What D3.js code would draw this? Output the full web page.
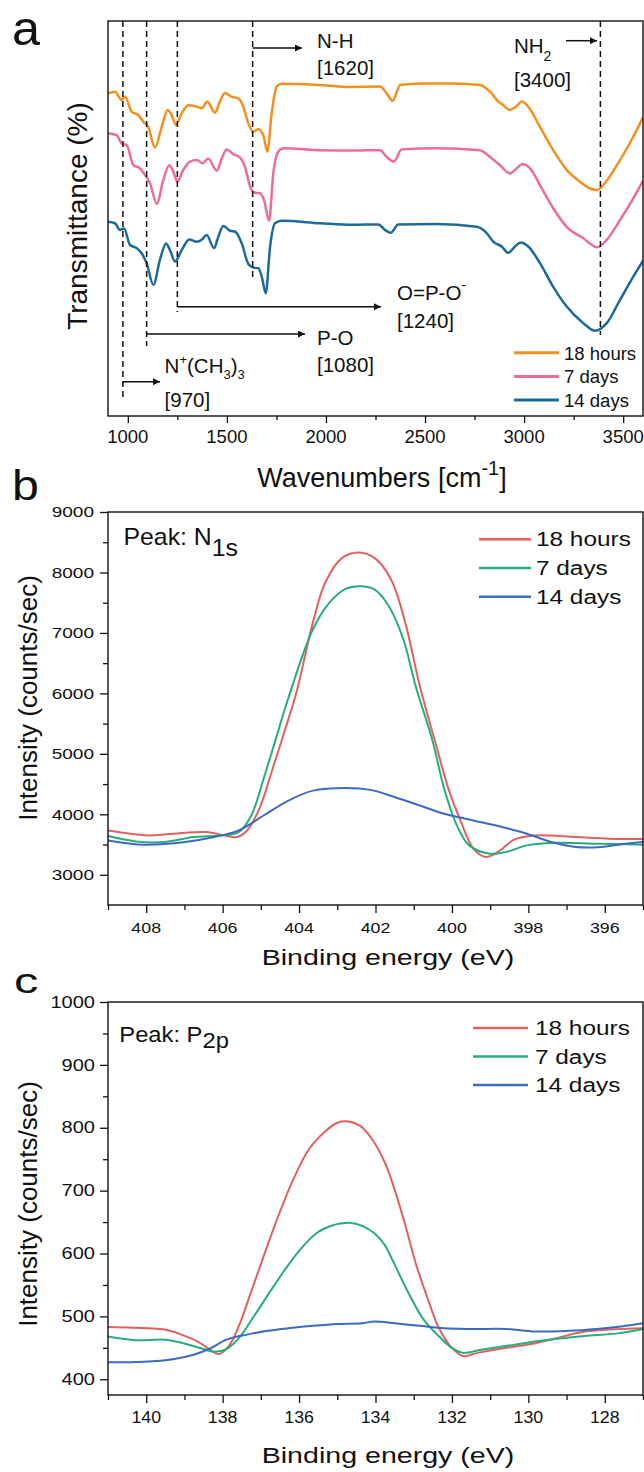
<!DOCTYPE html>
<html>
<head>
<meta charset="utf-8">
<script src="https://cdn.jsdelivr.net/npm/d3@7"></script>
<style>
body { margin: 0; background: #fff; }
text { font-family: Arial, "Liberation Sans", sans-serif; fill: #111; }
</style>
</head>
<body>
<svg id="fig" width="644" height="1472"></svg>
<script>
var seriesNames = ['18 hours', '7 days', '14 days'];
var ftirColors = ['#f5901e', '#ee6c9c', '#1d6a9b'];
var xpsColors = ['#e3605f', '#27ad7d', '#3d6bbf'];

// FTIR (panel a), [wavenumber, transmittance a.u.]
var ftir18h = [[900,81.7],[935,82.1],[969,80.0],[986,80.8],[1020,77.0],[1053,76.2],[1078,74.5],[1103,73.2],[1137,68.0],[1171,73.2],[1201,77.5],[1221,76.2],[1243,73.7],[1272,76.6],[1305,78.7],[1348,78.3],[1373,77.9],[1401,79.6],[1440,76.8],[1465,79.6],[1490,81.8],[1524,80.8],[1558,80.4],[1583,78.3],[1608,74.1],[1633,72.0],[1659,72.6],[1684,71.1],[1704,66.9],[1726,76.6],[1751,83.4],[1777,84.1],[1900,84.0],[2020,83.6],[2105,83.3],[2273,83.4],[2306,81.7],[2337,79.8],[2374,83.8],[2475,84.2],[2643,84.2],[2777,83.8],[2828,82.1],[2870,79.6],[2895,78.7],[2925,77.5],[2959,78.3],[2988,79.6],[3021,78.3],[3080,73.2],[3147,67.3],[3215,62.3],[3282,59.3],[3333,57.6],[3368,57.2],[3400,58.5],[3484,64.8],[3551,70.7],[3600,75.6]];
var ftir7d = [[900,71.6],[944,71.1],[969,69.0],[994,68.6],[1028,63.5],[1061,62.7],[1087,61.0],[1112,58.9],[1146,53.7],[1179,59.7],[1209,63.5],[1230,61.8],[1250,59.3],[1280,62.3],[1314,64.4],[1348,64.8],[1378,64.0],[1406,65.2],[1449,62.1],[1474,65.2],[1499,67.5],[1532,66.3],[1563,65.6],[1591,63.1],[1617,58.1],[1642,56.5],[1667,56.4],[1687,54.7],[1713,49.4],[1734,61.4],[1759,66.9],[1785,67.8],[1970,67.3],[2138,67.2],[2273,67.3],[2306,65.6],[2343,64.4],[2382,67.5],[2559,67.8],[2777,67.3],[2828,65.6],[2878,63.5],[2929,61.4],[2963,62.7],[2993,63.8],[3030,62.7],[3089,57.6],[3147,52.6],[3215,47.9],[3299,45.0],[3369,42.7],[3417,44.6],[3484,49.6],[3551,55.1],[3600,59.5]];
var ftir14d = [[900,49.2],[935,48.8],[961,47.1],[981,47.5],[1011,43.3],[1045,42.5],[1070,41.2],[1095,38.7],[1129,33.2],[1162,39.5],[1193,43.7],[1216,41.6],[1238,39.1],[1272,42.0],[1310,44.7],[1348,44.1],[1373,44.6],[1398,45.8],[1435,42.5],[1457,45.4],[1482,48.1],[1516,46.9],[1541,46.7],[1575,43.7],[1608,38.5],[1633,37.6],[1659,37.4],[1676,35.3],[1696,31.1],[1718,42.9],[1743,48.8],[1777,49.4],[1970,48.8],[2138,48.4],[2264,48.5],[2298,47.1],[2327,46.4],[2365,48.5],[2559,48.6],[2761,47.9],[2811,46.3],[2845,44.1],[2887,42.9],[2920,41.3],[2954,42.9],[2983,43.9],[3021,42.9],[3080,38.7],[3147,32.7],[3215,27.7],[3299,23.5],[3358,21.6],[3417,23.5],[3484,29.4],[3551,35.3],[3600,39.3]];
var ftirTicks = [1000, 1500, 2000, 2500, 3000, 3500];
var ftirMinor = [1250, 1750, 2250, 2750, 3250];
var bandWavenumbers = [975, 1095, 1250, 1630, 3385];
var bandValues = ['[970]', '[1080]', '[1240]', '[1620]', '[3400]'];

// XPS N1s (panel b), [binding energy eV, counts/sec]
var n1s18h = [[409,3733],[407.95,3651],[407.3,3679],[406.44,3706],[405.95,3651],[405.63,3623],[405.36,3733],[405.04,4091],[404.72,4695],[404.39,5354],[404.07,6013],[403.64,7166],[403.32,7825],[402.88,8237],[402.46,8330],[402.02,8237],[401.59,7880],[401.22,7166],[400.84,6122],[400.41,5134],[400.09,4420],[399.76,3871],[399.44,3432],[399.12,3295],[398.8,3377],[398.36,3585],[397.83,3651],[396.75,3623],[395.89,3596],[395,3590]];
var n1s7d = [[409,3640],[408.27,3552],[407.51,3542],[406.76,3624],[406.11,3651],[405.58,3706],[405.25,3980],[404.93,4585],[404.61,5244],[404.29,5903],[403.64,7056],[403.21,7496],[402.78,7727],[402.4,7770],[402.02,7715],[401.65,7440],[401.27,6891],[400.95,6122],[400.52,5244],[400.2,4420],[399.87,3816],[399.55,3486],[399.01,3349],[398.58,3377],[398.04,3486],[397.29,3530],[396.21,3514],[395,3498]];
var n1s14d = [[409,3569],[408.05,3498],[406.98,3542],[406.22,3624],[405.58,3733],[404.93,3980],[404.28,4227],[403.64,4392],[402.78,4437],[402.13,4404],[401.49,4283],[400.84,4146],[400.2,4008],[399.44,3898],[398.69,3789],[398.04,3679],[397.4,3542],[396.75,3459],[396.1,3459],[395.46,3514],[395,3542]];
var n1sTicksX = [408, 406, 404, 402, 400, 398, 396];
var n1sMinorX = [409, 407, 405, 403, 401, 399, 397, 395];
var n1sTicksY = [3000, 4000, 5000, 6000, 7000, 8000, 9000];
var n1sMinorY = [3500, 4500, 5500, 6500, 7500, 8500];

// XPS P2p (panel c)
var p2p18h = [[141,483],[139.95,481],[139.51,479],[139.08,471],[138.65,460],[138.33,447],[138.11,440],[137.85,452],[137.58,484],[137.25,540],[136.93,595],[136.7,634],[136.45,674],[136.18,714],[135.75,765],[135.32,794],[135,808],[134.72,810],[134.4,803],[134.08,781],[133.75,744],[133.49,700],[133.22,645],[132.95,585],[132.62,526],[132.36,484],[132.03,452],[131.71,437],[131.33,442],[130.69,449],[129.93,456],[129.29,465],[128.53,476],[127.89,479],[127,481]];
var p2p7d = [[141,468],[140.27,462],[139.51,463],[139.08,458],[138.65,451],[138.22,444],[137.9,448],[137.58,465],[137.15,503],[136.72,543],[136.28,582],[135.96,607],[135.53,633],[135.21,643],[134.88,648],[134.67,649],[134.35,644],[134.02,632],[133.75,613],[133.59,594],[133.16,540],[132.73,494],[132.3,466],[131.98,449],[131.71,442],[131.23,447],[130.58,453],[129.83,460],[129.18,465],[128.53,469],[127.67,473],[127,480]];
var p2p14d = [[141,427],[140.05,428],[139.3,432],[138.76,439],[138.33,449],[137.9,463],[137.36,471],[136.82,477],[136.28,481],[135.64,485],[135,488],[134.35,489],[134.02,492],[133.49,489],[132.84,485],[132.2,481],[131.44,480],[130.58,480],[129.83,476],[128.96,477],[128.21,480],[127.57,484],[127,489]];
var p2pTicksX = [140, 138, 136, 134, 132, 130, 128];
var p2pMinorX = [141, 139, 137, 135, 133, 131, 129, 127];
var p2pTicksY = [400, 500, 600, 700, 800, 900, 1000];
var p2pMinorY = [450, 550, 650, 750, 850, 950];

var svg = d3.select('#fig');
var defs = svg.append('defs');
defs.append('marker').attr('id', 'arr').attr('viewBox', '0 0 10 10')
  .attr('refX', 10).attr('refY', 5).attr('markerWidth', 12).attr('markerHeight', 7)
  .attr('markerUnits', 'userSpaceOnUse').attr('orient', 'auto')
  .append('path').attr('d', 'M0,0L10,5L0,10z').attr('fill', '#111');

var L = 108, R = 643;

// text with horizontal stretch (the source figure is not scaled evenly)
function rich(g, x, y, parts, size, sx, anchor) {
  var t = g.append('text')
    .attr('transform', 'translate(' + x + ',' + y + ') scale(' + sx + ',1)')
    .attr('font-size', size)
    .attr('text-anchor', anchor || 'start');
  parts.forEach(function(p) {
    if (typeof p === 'string') p = {t: p};
    t.append('tspan').attr('dy', p.dy || 0).attr('font-size', p.size || size).text(p.t);
  });
  return t;
}

function vtitle(g, x, y, s, size) {
  g.append('text').attr('transform', 'translate(' + x + ',' + y + ') rotate(-90)')
    .attr('font-size', size).attr('text-anchor', 'middle').text(s);
}

function ticks(g, axis, pos) {
  var a = g.append('g').attr('transform', pos).call(axis);
  a.select('.domain').remove();
  a.selectAll('line').attr('stroke', '#111').attr('stroke-width', 1.3);
  return a;
}

function panel(cfg) {
  var g = svg.append('g');
  var x = d3.scaleLinear().domain(cfg.xDomain).range([L, R]);
  var y = d3.scaleLinear().domain(cfg.yDomain).range([cfg.bottom, cfg.top]);
  var id = 'clip' + cfg.name;
  defs.append('clipPath').attr('id', id).append('rect')
    .attr('x', L).attr('y', cfg.top).attr('width', R - L).attr('height', cfg.bottom - cfg.top);

  var line = d3.line().x(function(d) { return x(d[0]); }).y(function(d) { return y(d[1]); })
    .curve(cfg.curve);
  var lines = g.append('g').attr('clip-path', 'url(#' + id + ')');
  cfg.series.forEach(function(s, i) {
    lines.append('path').datum(s).attr('d', line).attr('fill', 'none')
      .attr('stroke', cfg.colors[i]).attr('stroke-width', cfg.lw).attr('stroke-linejoin', 'round');
  });

  g.append('rect').attr('x', L).attr('y', cfg.top).attr('width', R - L).attr('height', cfg.bottom - cfg.top)
    .attr('fill', 'none').attr('stroke', '#111').attr('stroke-width', 1.4);

  ticks(g, d3.axisBottom(x).tickValues(cfg.xTicks).tickSize(cfg.major).tickFormat(''), 'translate(0,' + cfg.bottom + ')');
  ticks(g, d3.axisBottom(x).tickValues(cfg.xMinor).tickSize(cfg.minor).tickFormat(''), 'translate(0,' + cfg.bottom + ')');
  cfg.xTicks.forEach(function(v) {
    rich(g, x(v), cfg.xLabelY, [String(v)], cfg.xSize, cfg.xSx, 'middle');
  });
  if (cfg.yTicks) {
    ticks(g, d3.axisLeft(y).tickValues(cfg.yTicks).tickSize(cfg.major).tickFormat(''), 'translate(' + L + ',0)');
    ticks(g, d3.axisLeft(y).tickValues(cfg.yMinor).tickSize(cfg.minor).tickFormat(''), 'translate(' + L + ',0)');
    cfg.yTicks.forEach(function(v) {
      rich(g, cfg.yLabelX, y(v) + cfg.ySize * 0.36, [String(v)], cfg.ySize, cfg.ySx, 'end');
    });
  }

  // legend
  seriesNames.forEach(function(n, i) {
    var ly = cfg.legend.y + i * cfg.legend.dy;
    g.append('line').attr('x1', cfg.legend.x1).attr('x2', cfg.legend.x2).attr('y1', ly).attr('y2', ly)
      .attr('stroke', cfg.colors[i]).attr('stroke-width', cfg.lw + 0.5);
    rich(g, cfg.legend.tx, ly + 7, [n], cfg.legend.size, cfg.legend.sx, 'start');
  });
  return {g: g, x: x, y: y};
}

// ---- panel a ----
var pa = panel({
  name: 'a', xDomain: [900, 3600], yDomain: [0, 100], top: 21, bottom: 416,
  series: [ftir18h, ftir7d, ftir14d], colors: ftirColors, lw: 2.5, curve: d3.curveMonotoneX,
  xTicks: ftirTicks, xMinor: ftirMinor, major: 7, minor: 4,
  xLabelY: 443, xSize: 18.5, xSx: 1.0,
  legend: {x1: 514, x2: 559, tx: 564, y: 352.7, dy: 23.7, size: 18, sx: 1.03}
});
rich(svg, 12, 45, ['a'], 48, 1.05);
vtitle(svg, 87, 216, 'Transmittance (%)', 28);
rich(svg, 382, 487, ['Wavenumbers [cm', {t: '-1', size: 20, dy: -12}, {t: ']', dy: 12}], 27, 1.0, 'middle');

// band markers
var bandLayout = [
  {end: 398, ay: 381.7, ax1: null, ax2: 160, tx: 164.6, ty: 373, ny: 407,
    name: ['N', {t: '+', size: 13, dy: -9}, {t: '(CH', dy: 9}, {t: '3', size: 13, dy: 6}, {t: ')', dy: -6}, {t: '3', size: 13, dy: 6}]},
  {end: 346, ay: 334, ax1: null, ax2: 305, tx: 317, ty: 345, ny: 372, name: ['P-O']},
  {end: 312, ay: 306.7, ax1: null, ax2: 381, tx: 397, ty: 300, ny: 328, name: ['O=P-O', {t: '-', size: 14, dy: -10}]},
  {end: 277, ay: 48, ax1: null, ax2: 302, tx: 317, ty: 48, ny: 75, name: ['N-H']},
  {end: 335, ay: 40.7, ax1: 566, ax2: 597, tx: 514, ty: 53, ny: 87, name: ['NH', {t: '2', size: 14, dy: 8}]}
];
var ann = svg.append('g');
bandWavenumbers.forEach(function(w, i) {
  var b = bandLayout[i];
  var bx = pa.x(w);
  ann.append('line').attr('x1', bx).attr('x2', bx).attr('y1', 21).attr('y2', b.end)
    .attr('stroke', '#111').attr('stroke-width', 1.5).attr('stroke-dasharray', '6,4');
  ann.append('line').attr('x1', b.ax1 === null ? bx : b.ax1).attr('x2', b.ax2).attr('y1', b.ay).attr('y2', b.ay)
    .attr('stroke', '#111').attr('stroke-width', 1.5).attr('marker-end', 'url(#arr)');
  rich(ann, b.tx, b.ty, b.name, 20.5, 1.0, 'start');
  rich(ann, b.tx, b.ny, [bandValues[i]], 20.5, 1.0, 'start');
});

// ---- panel b ----
var pb = panel({
  name: 'b', xDomain: [409, 395], yDomain: [2500, 9000], top: 512, bottom: 905,
  series: [n1s18h, n1s7d, n1s14d], colors: xpsColors, lw: 2, curve: d3.curveCatmullRom.alpha(0.5),
  xTicks: n1sTicksX, xMinor: n1sMinorX, yTicks: n1sTicksY, yMinor: n1sMinorY, major: 8, minor: 5,
  xLabelY: 933, xSize: 15.5, xSx: 1.15, yLabelX: 94, ySize: 15, ySx: 1.27,
  legend: {x1: 479, x2: 531, tx: 536, y: 539.3, dy: 28.7, size: 19.5, sx: 1.25}
});
rich(svg, 12, 500, ['b'], 42, 1.15);
vtitle(svg, 37, 698, 'Intensity (counts/sec)', 26);
rich(svg, 388, 965, ['Binding energy (eV)'], 22, 1.3, 'middle');
rich(svg, 123.5, 545, ['Peak: N', {t: '1s', dy: 11}], 23, 1.08, 'start');

// ---- panel c ----
var pc = panel({
  name: 'c', xDomain: [141, 127], yDomain: [375, 1000], top: 1002, bottom: 1395,
  series: [p2p18h, p2p7d, p2p14d], colors: xpsColors, lw: 2, curve: d3.curveCatmullRom.alpha(0.5),
  xTicks: p2pTicksX, xMinor: p2pMinorX, yTicks: p2pTicksY, yMinor: p2pMinorY, major: 8, minor: 5,
  xLabelY: 1423, xSize: 16.3, xSx: 1.09, yLabelX: 95, ySize: 15.8, ySx: 1.27,
  legend: {x1: 473, x2: 528, tx: 535, y: 1028, dy: 28.5, size: 19.5, sx: 1.25}
});
rich(svg, 14, 993, ['c'], 36, 1.35);
vtitle(svg, 37, 1204, 'Intensity (counts/sec)', 26);
rich(svg, 388, 1463, ['Binding energy (eV)'], 22, 1.3, 'middle');
rich(svg, 119.3, 1042, ['Peak: P', {t: '2p', dy: 6}], 22, 1.08, 'start');
</script>
</body>
</html>
